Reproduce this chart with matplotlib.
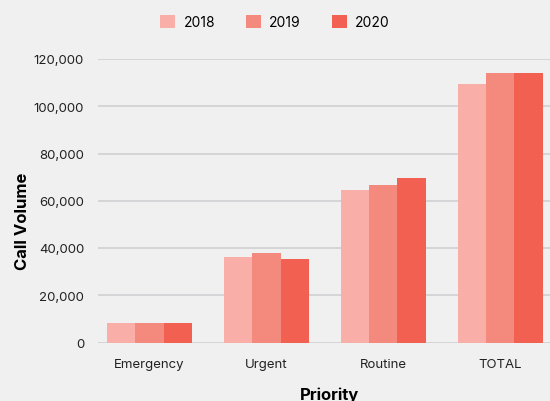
import matplotlib
matplotlib.use("Agg")
import matplotlib.pyplot as plt
import numpy as np
from matplotlib.ticker import FuncFormatter

plt.rcParams["font.family"] = ["Inter", "DejaVu Sans"]

categories = ["Emergency", "Urgent", "Routine", "TOTAL"]
years = ["2018", "2019", "2020"]
v2018 = [8100, 36300, 64600, 109500]
v2019 = [8100, 38000, 66800, 114200]
v2020 = [8100, 35500, 69700, 114200]
colors = ["#f9aea8", "#f4897d", "#f26052"]

BG = "#f0f0f0"
fig = plt.figure(figsize=(5.5, 4.02), dpi=100, facecolor=BG)
ax = fig.add_axes([98 / 550, 1 - 343.5 / 402, 1 - 98 / 550 + 0.003, 283.5 / 402])
ax.set_facecolor(BG)

x = np.arange(len(categories))
w = 0.243
for i, (vals, lab) in enumerate(zip([v2018, v2019, v2020], years)):
    ax.bar(x + (i - 1) * w, vals, w, color=colors[i], label=lab, zorder=2)

ax.set_xlim(-0.44, 3.44)
ax.set_ylim(0, 120000)
ax.set_yticks(np.arange(0, 120001, 20000))
ax.yaxis.set_major_formatter(FuncFormatter(lambda v, p: f"{int(v):,}"))
ax.set_xticks(x)
ax.set_xticklabels(categories)
ax.grid(True, axis="y", color="#d3d3d5", lw=1.3, zorder=0)
for s in ax.spines.values():
    s.set_visible(False)
ax.tick_params(axis="both", length=0, labelsize=9.5, colors="#222222")
ax.tick_params(axis="y", pad=10)
ax.tick_params(axis="x", pad=11)

ax.set_ylabel("Call Volume", fontsize=12, fontweight="bold", labelpad=3, y=0.43)
ax.set_xlabel("Priority", fontsize=12, fontweight="bold", labelpad=12, x=0.51)

ax.legend(loc="center", bbox_to_anchor=(275 / 550, 1 - 23 / 402),
          bbox_transform=fig.transFigure, ncol=3, frameon=False,
          fontsize=10, handlelength=1.1, handleheight=1.1, columnspacing=2.2,
          handletextpad=0.6)

fig.savefig("out.png", dpi=100, facecolor=BG)
